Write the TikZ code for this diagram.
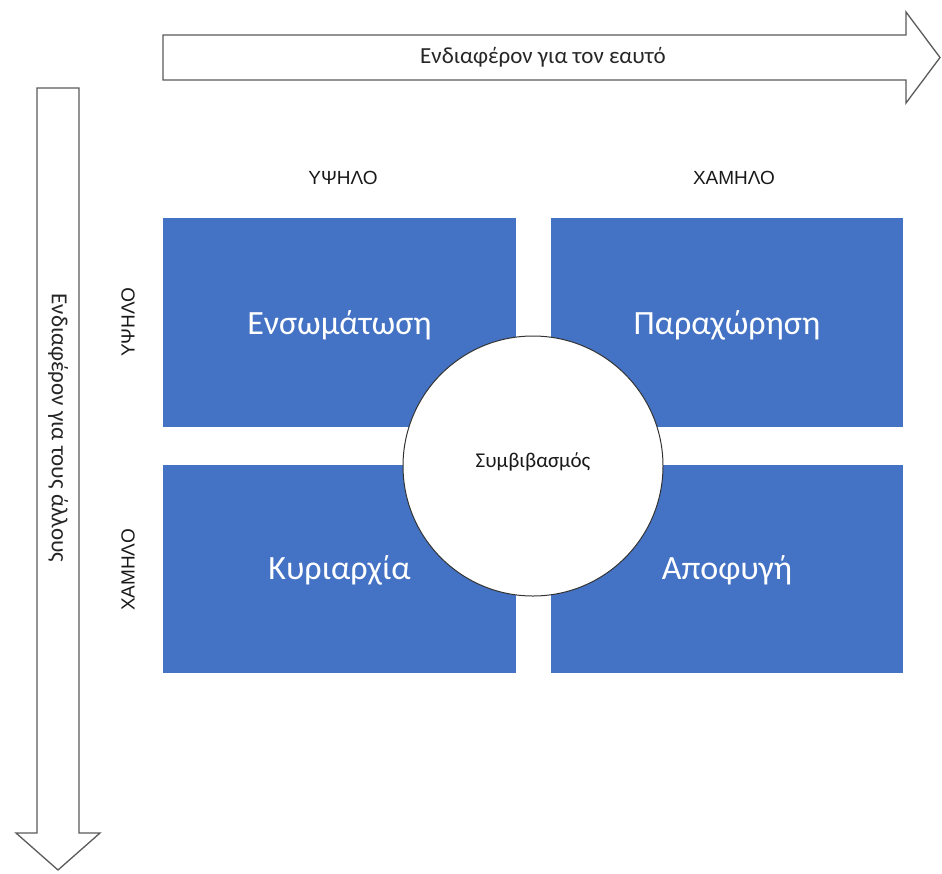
\documentclass[tikz,border=0pt]{standalone}
\usepackage{fontspec}
\setmainfont{Carlito}
\newfontfamily\hdrfont{Liberation Sans}
\definecolor{boxblue}{HTML}{4472C4}
\definecolor{arrowgray}{HTML}{5A5A5A}
\tikzset{
  bigarrow/.style={draw=arrowgray, line width=1.3pt, fill=white, line join=miter},
  quad/.style={fill=boxblue, draw=none},
  quadtext/.style={text=white, font=\fontsize{34}{38}\selectfont, inner sep=0pt},
  axistext/.style={text=black!85, font=\fontsize{23}{27}\selectfont, inner sep=0pt},
  leveltext/.style={text=black!90, font=\hdrfont\fontsize{19}{22}\selectfont, inner sep=0pt},
  centertext/.style={text=black!90, font=\fontsize{21}{25}\selectfont, inner sep=0pt},
}
\begin{document}
\begin{tikzpicture}[x=1pt,y=-1pt]
\useasboundingbox (0,0) rectangle (942,873);
% top arrow
\draw[bigarrow] (163,35) -- (906,35) -- (906,12) -- (940,57.5) -- (906,103) -- (906,80) -- (163,80) -- cycle;
\node[axistext] (selftext) at (543,57) {Ενδιαφέρον για τον εαυτό};
% left arrow
\draw[bigarrow] (37,88) -- (79,88) -- (79,833) -- (100,833) -- (58,870) -- (16,833) -- (37,833) -- cycle;
\node[axistext, rotate=-90] (otherstext) at (58,428) {Ενδιαφέρον για τους άλλους};
% column/row labels
\node[leveltext] (colhigh) at (343,178) {ΥΨΗΛΟ};
\node[leveltext] (collow) at (734,178) {ΧΑΜΗΛΟ};
\node[leveltext, rotate=90] (rowhigh) at (128,322) {ΥΨΗΛΟ};
\node[leveltext, rotate=90] (rowlow) at (128,570) {ΧΑΜΗΛΟ};
% quadrants
\fill[quad] (163,218) rectangle (516,427);
\fill[quad] (551,218) rectangle (903,427);
\fill[quad] (163,465) rectangle (516,673);
\fill[quad] (551,465) rectangle (903,673);
\node[quadtext] (integr) at (339.5,325) {Ενσωμάτωση};
\node[quadtext] (accom) at (727,325) {Παραχώρηση};
\node[quadtext] (domin) at (339.5,570) {Κυριαρχία};
\node[quadtext] (avoid) at (727,570) {Αποφυγή};
% center circle
\draw[draw=black!80, line width=1pt, fill=white] (533,466) circle (130);
\node[centertext] (compro) at (533,462) {Συμβιβασμός};
\end{tikzpicture}
\end{document}
